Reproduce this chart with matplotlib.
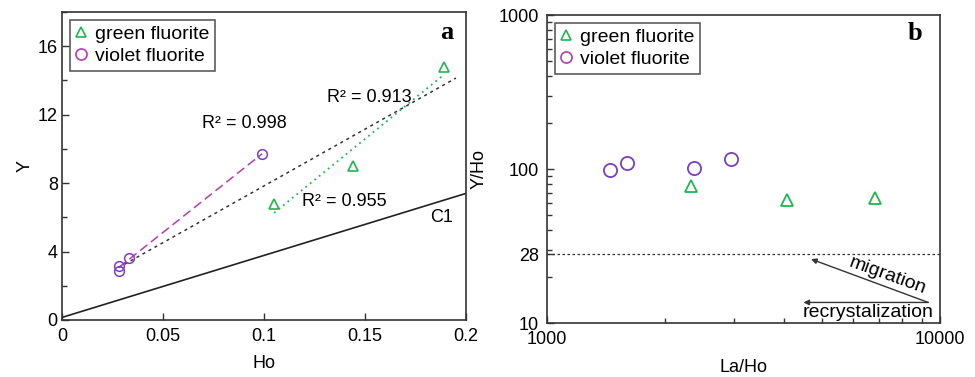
import numpy as np
import matplotlib as mpl
import matplotlib.pyplot as plt
from matplotlib.lines import Line2D
from matplotlib.ticker import FixedLocator, NullFormatter, LogLocator

mpl.use("Agg")
plt.rcParams["font.family"] = ["Liberation Sans", "DejaVu Sans"]

# panel a: Y vs Ho
green_ho = [0.105, 0.144, 0.189]
green_y = [6.8, 9.0, 14.8]
violet_ho = [0.028, 0.028, 0.033, 0.099]
violet_y = [2.85, 3.15, 3.65, 9.7]
c1_ho = [0.0, 0.2]
c1_y = [0.15, 7.4]

# panel b: Y/Ho vs La/Ho
green_laho = [2320, 4080, 6850]
green_yho = [78, 63, 65]
violet_laho = [1450, 1600, 2360, 2940]
violet_yho = [98.5, 109, 102, 116]
chondrite_yho = 28

GREEN = "#22b550"
PURPLE = "#7a3fc0"
MAGENTA = "#b83cb0"
SPINE = "#333333"
FS = 13


def style_axes(ax):
    for s in ax.spines.values():
        s.set_color(SPINE)
        s.set_linewidth(1.2)
    ax.tick_params(which="both", direction="in", top=False, right=False,
                   labelsize=FS, color=SPINE, width=1.0)
    ax.tick_params(which="major", length=5, pad=6)
    ax.tick_params(which="minor", length=3.5)


def add_legend(ax):
    handles = [
        Line2D([], [], ls="none", marker="^", mfc="none", mec=GREEN, ms=7, mew=1.2),
        Line2D([], [], ls="none", marker="o", mfc="none", mec=MAGENTA, ms=8, mew=1.2),
    ]
    leg = ax.legend(handles, ["green fluorite", "violet fluorite"], loc="upper left",
                    fontsize=14, frameon=True, fancybox=False, handlelength=0.6,
                    handletextpad=0.4, borderpad=0.3, labelspacing=0.2,
                    borderaxespad=0.4)
    leg.get_frame().set_edgecolor(SPINE)
    leg.get_frame().set_linewidth(1.2)


def fit_line(x, y, x0, x1):
    k, b = np.polyfit(x, y, 1)
    xs = np.array([x0, x1])
    return xs, k * xs + b


fig = plt.figure(figsize=(9.75, 3.77), dpi=100)

# ---- panel a
ax1 = fig.add_axes([0.0636, 0.1512, 0.4144, 0.817])
style_axes(ax1)
ax1.tick_params(axis="y", which="major", pad=3)
ax1.set_xlim(0, 0.2)
ax1.set_ylim(0, 18)
ax1.xaxis.set_major_locator(FixedLocator([0, 0.05, 0.1, 0.15, 0.2]))
ax1.set_xticklabels(["0", "0.05", "0.1", "0.15", "0.2"])
ax1.yaxis.set_major_locator(FixedLocator([0, 4, 8, 12, 16]))
ax1.yaxis.set_minor_locator(FixedLocator([2, 6, 10, 14, 18]))

ax1.plot(c1_ho, c1_y, color="#222222", lw=1.2)

all_ho = green_ho + violet_ho
all_y = green_y + violet_y
xs, ys = fit_line(all_ho, all_y, 0.028, 0.195)
ax1.plot(xs, ys, color="#333333", lw=1.1, ls=(0, (2, 2.5)))
xs, ys = fit_line(violet_ho, violet_y, 0.028, 0.099)
ax1.plot(xs, ys, color=MAGENTA, lw=1.1, ls=(0, (6, 3)))
xs, ys = fit_line(green_ho, green_y, 0.105, 0.189)
ax1.plot(xs, ys, color=GREEN, lw=1.3, ls=(0, (1, 2.2)))

ax1.plot(green_ho, green_y, ls="none", marker="^", mfc="none", mec=GREEN, ms=7, mew=1.2)
ax1.plot(violet_ho, violet_y, ls="none", marker="o", mfc="none", mec=PURPLE, ms=7, mew=1.1)

ax1.text(0.0695, 11.5, "R² = 0.998", fontsize=FS, va="center")
ax1.text(0.131, 13.0, "R² = 0.913", fontsize=FS, va="center")
ax1.text(0.119, 6.95, "R² = 0.955", fontsize=FS, va="center")
ax1.text(0.182, 6.0, "C1", fontsize=FS, va="center")
ax1.text(0.1935, 16.8, "a", fontsize=19, fontweight="bold",
         family="Liberation Serif", ha="right", va="center")
ax1.set_xlabel("Ho", fontsize=FS, labelpad=7)
ax1.set_ylabel("Y", fontsize=FS, labelpad=3)
add_legend(ax1)

# ---- panel b
ax2 = fig.add_axes([0.561, 0.1432, 0.403, 0.817])
ax2.set_xscale("log")
ax2.set_yscale("log")
style_axes(ax2)
ax2.set_xlim(1000, 10000)
ax2.set_ylim(10, 1000)
ax2.xaxis.set_major_locator(FixedLocator([1000, 10000]))
ax2.set_xticklabels(["1000", "10000"])
ax2.xaxis.set_minor_locator(LogLocator(base=10, subs=np.arange(2, 10)))
ax2.xaxis.set_minor_formatter(NullFormatter())
ax2.yaxis.set_major_locator(FixedLocator([10, chondrite_yho, 100, 1000]))
ax2.set_yticklabels(["10", str(chondrite_yho), "100", "1000"])
ax2.yaxis.set_minor_locator(LogLocator(base=10, subs=np.arange(2, 10)))
ax2.yaxis.set_minor_formatter(NullFormatter())

ax2.axhline(chondrite_yho, color="#333333", lw=0.9, ls=(0, (2, 2)))
ax2.plot(green_laho, green_yho, ls="none", marker="^", mfc="none", mec=GREEN, ms=9, mew=1.3)
ax2.plot(violet_laho, violet_yho, ls="none", marker="o", mfc="none", mec=PURPLE, ms=9.5, mew=1.3)

arrow_kw = dict(arrowstyle="-|>", color="#333333", lw=1.0, mutation_scale=8,
                shrinkA=0, shrinkB=0)
ax2.annotate("", xy=(4700, 26.0), xytext=(9340, 13.6), arrowprops=arrow_kw)
ax2.annotate("", xy=(4495, 13.6), xytext=(9340, 13.6), arrowprops=arrow_kw)
ax2.text(7350, 20.3, "migration", fontsize=14, rotation=-20, ha="center", va="center")
ax2.text(6550, 11.75, "recrystalization", fontsize=14, ha="center", va="center")
ax2.text(9000, 760, "b", fontsize=19, fontweight="bold",
         family="Liberation Serif", ha="right", va="center")
ax2.set_xlabel("La/Ho", fontsize=FS, labelpad=8)
ax2.set_ylabel("Y/Ho", fontsize=FS, labelpad=8)
add_legend(ax2)

fig.savefig("out.png", dpi=100)
